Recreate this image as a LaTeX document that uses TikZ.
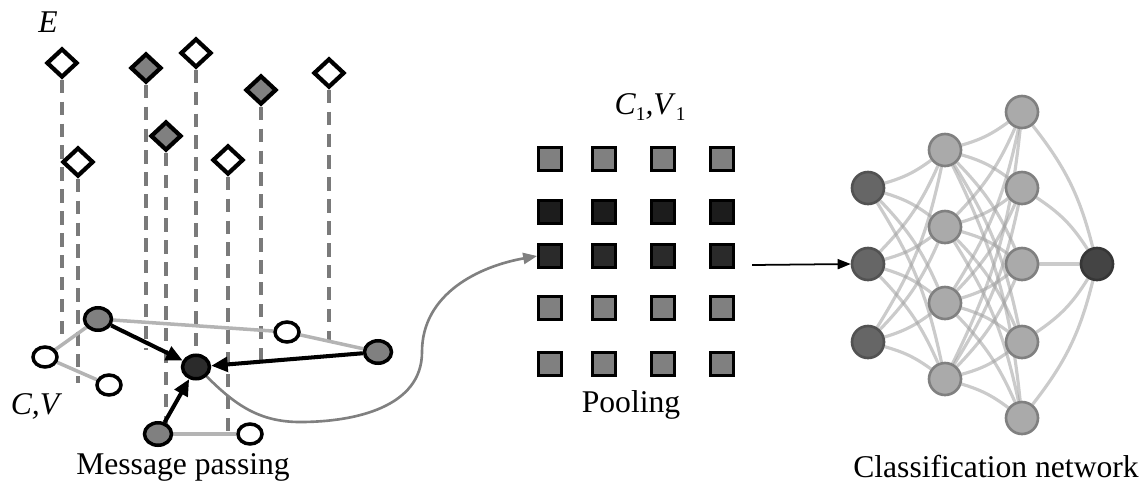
\documentclass[tikz,border=0pt]{standalone}
\usepackage{fontspec}
\setmainfont{Liberation Serif}
\usetikzlibrary{shapes.geometric,arrows.meta,backgrounds}
\definecolor{midgray}{HTML}{808080}
\definecolor{dashgray}{HTML}{7A7A7A}
\definecolor{lgray}{HTML}{B4B4B4}
\definecolor{darknode}{HTML}{2B2B2B}
\definecolor{sqdark}{HTML}{1C1C1C}
\definecolor{sqdarkb}{HTML}{2A2A2A}
\definecolor{inlayer}{HTML}{666666}
\definecolor{hidlayer}{HTML}{AAAAAA}
\definecolor{outlayer}{HTML}{444444}
\definecolor{netedge}{HTML}{A0A0A0}
\tikzset{
  dia/.style={diamond, draw=black, line width=2.4pt, minimum width=0.62cm, minimum height=0.58cm, inner sep=0pt, fill=white},
  diag/.style={dia, fill=midgray},
  vline/.style={draw=dashgray, line width=2.4pt, dash pattern=on 7.5pt off 5pt},
  cnode/.style={ellipse, draw=black, line width=2pt, minimum width=0.48cm, minimum height=0.4cm, inner sep=0pt, fill=white},
  cgray/.style={cnode, fill=midgray, minimum width=0.54cm, minimum height=0.45cm},
  cdark/.style={cnode, fill=darknode, minimum width=0.54cm, minimum height=0.47cm},
  gedge/.style={draw=lgray, line width=2pt},
  barrow/.style={draw=black, line width=2.3pt, -{Triangle[length=0.33cm,width=0.29cm]}},
  sqbox/.style={rectangle, draw=black, line width=1.8pt, minimum size=0.45cm, inner sep=0pt},
  nn/.style={circle, minimum size=0.64cm, inner sep=0pt, line width=1.5pt},
  nin/.style={nn, fill=inlayer, draw=inlayer!80!black},
  nhid/.style={nn, fill=hidlayer, draw=hidlayer!75!black},
  nout/.style={nn, fill=outlayer, draw=outlayer!80!black},
  nedge/.style={draw=netedge, line width=1.8pt, opacity=0.55},
  lbl/.style={inner sep=0pt}
}
\begin{document}
\begin{tikzpicture}[x=0.02cm,y=-0.02cm, font=\fontsize{18}{21}\selectfont]
\useasboundingbox (0,0) rectangle (1146,491);

% ---------- Message passing ----------
\node[lbl] (E) at (48,22) {\itshape E};
\node[dia]  (d1) at (62,63) {};
\node[diag] (d2) at (146,68) {};
\node[dia]  (d3) at (196,53) {};
\node[diag] (d4) at (261,90) {};
\node[dia]  (d5) at (329,73) {};
\node[dia]  (d6) at (78,162) {};
\node[diag] (d7) at (166,136) {};
\node[dia]  (d8) at (228,160) {};

\coordinate (e1) at (62,340);
\coordinate (e2) at (146,350);
\coordinate (e3) at (196,357);
\coordinate (e4) at (261,360);
\coordinate (e5) at (329,340);
\coordinate (e6) at (78,383);
\coordinate (e7) at (166,437);
\coordinate (e8) at (228,433);

\node[cgray] (g1) at (98,319) {};
\node[cnode] (w1) at (45,357) {};
\node[cnode] (w2) at (109,385) {};
\node[cdark] (c0) at (196,367) {};
\node[cnode] (w3) at (287,332) {};
\node[cgray] (g2) at (378,352) {};
\node[cgray] (g3) at (158,434) {};
\node[cnode] (w4) at (250,434) {};

\begin{scope}[on background layer]
  \foreach \k in {1,...,8} \draw[vline] (d\k.south) -- (e\k);
  \draw[gedge] (g1) -- (w1);
  \draw[gedge] (w1) -- (w2);
  \draw[gedge] (g1) -- (w3);
  \draw[gedge] (w3) -- (g2);
  \draw[gedge] (g3) -- (w4);
\end{scope}

\draw[barrow] (g1) -- (c0);
\draw[barrow] (g2) -- (c0);
\draw[barrow] (g3) -- (c0);

\node[lbl] (cv) at (35,406) {\itshape C,V};
\node[lbl] (mp) at (183,467) {Message passing};

% ---------- Pooling ----------
\node[lbl] (cv1) at (650,107) {\itshape C\/\raisebox{-0.4ex}{\upshape\fontsize{11}{12}\selectfont 1},V\/\raisebox{-0.4ex}{\upshape\fontsize{11}{12}\selectfont 1}};
\foreach \c [count=\ci] in {550,604,663,722} {
  \node[sqbox, fill=midgray] (s1\ci) at (\c,159) {};
  \node[sqbox, fill=sqdark]  (s2\ci) at (\c,212) {};
  \node[sqbox, fill=sqdarkb] (s3\ci) at (\c,256) {};
  \node[sqbox, fill=midgray] (s4\ci) at (\c,308) {};
  \node[sqbox, fill=midgray] (s5\ci) at (\c,364) {};
}
\node[lbl] (pool) at (631,405) {Pooling};

\draw[draw=midgray, line width=1.5pt, -{Triangle[length=0.28cm,width=0.22cm]}]
  (c0.south east) to[out=-45,in=180] (300,422)
  to[out=0,in=-90] (422,352)
  to[out=90,in=190] (s31.west);

% ---------- Classification network ----------
\node[nin] (a1) at (868,188) {};
\node[nin] (a2) at (868,264) {};
\node[nin] (a3) at (868,342) {};
\node[nhid] (b1) at (945,150) {};
\node[nhid] (b2) at (945,227) {};
\node[nhid] (b3) at (945,303) {};
\node[nhid] (b4) at (945,379) {};
\node[nhid] (h1) at (1022,112) {};
\node[nhid] (h2) at (1022,188) {};
\node[nhid] (h3) at (1022,264) {};
\node[nhid] (h4) at (1022,342) {};
\node[nhid] (h5) at (1022,418) {};
\node[nout] (o) at (1097,264) {};

\begin{scope}[on background layer]
  \foreach \i/\yi in {1/188,2/264,3/342}
    \foreach \j/\yj in {1/150,2/227,3/303,4/379} {
      \pgfmathsetmacro\bb{10*sign(\yj-\yi)}
      \draw[nedge] (a\i) to[bend left=\bb] (b\j);
    }
  \foreach \i/\yi in {1/150,2/227,3/303,4/379}
    \foreach \j/\yj in {1/112,2/188,3/264,4/342,5/418} {
      \pgfmathsetmacro\bb{10*sign(\yj-\yi)}
      \draw[nedge] (b\i) to[bend left=\bb] (h\j);
    }
  \foreach \j/\yj in {1/112,2/188,3/264,4/342,5/418} {
    \pgfmathsetmacro\bb{12*sign(264-\yj)}
    \draw[nedge] (h\j) to[bend left=\bb] (o);
  }
\end{scope}

\coordinate (arrstart) at (752,265);
\draw[black, line width=1pt, -{Triangle[length=0.26cm,width=0.2cm]}] (arrstart) -- (a2.west);

\node[lbl] (cn) at (996,467) {Classification network};
\end{tikzpicture}
\end{document}
